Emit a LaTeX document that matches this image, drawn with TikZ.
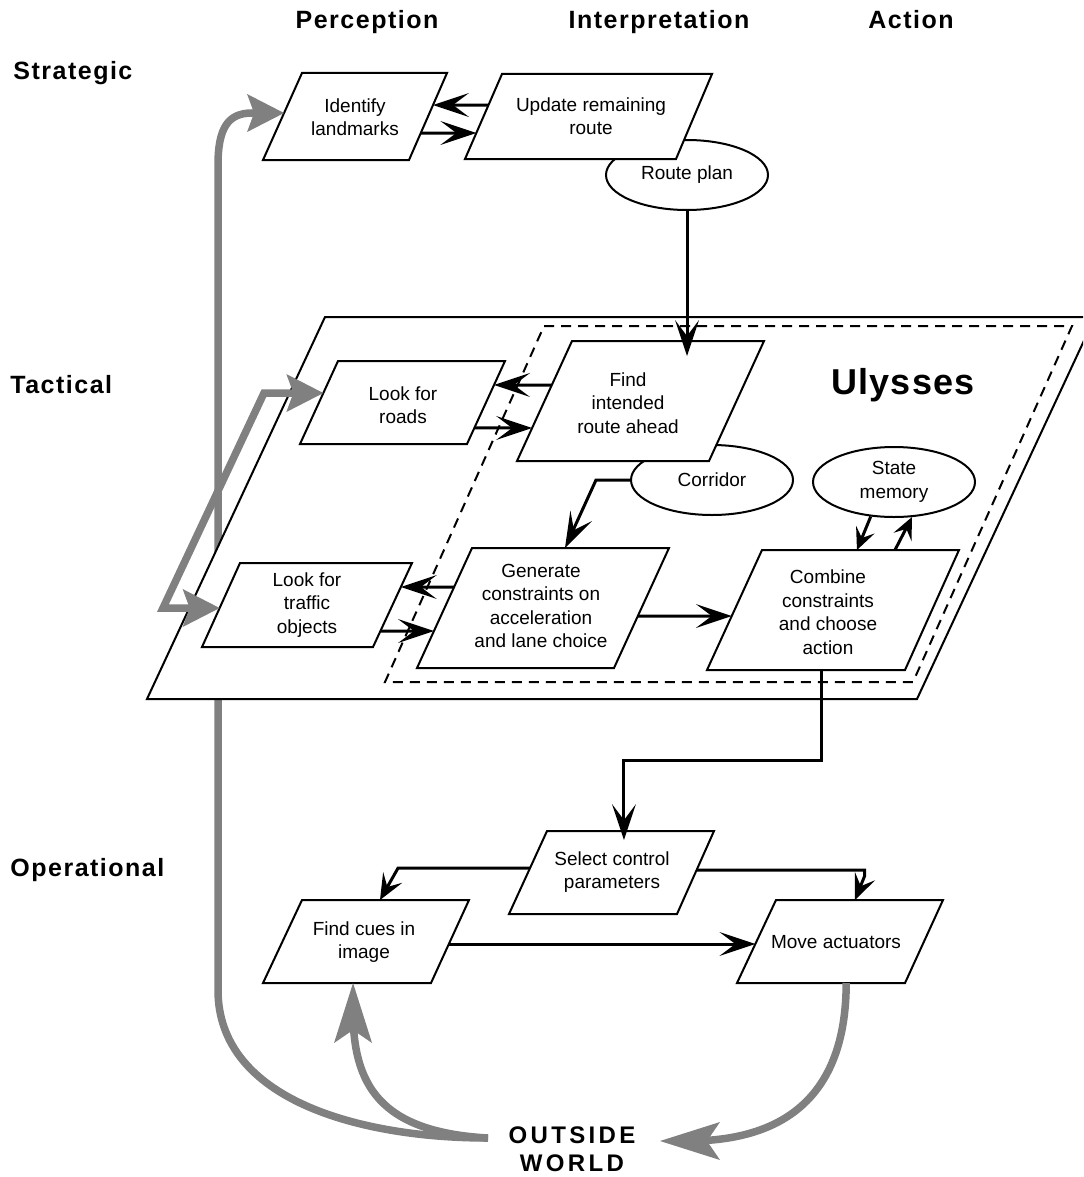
\documentclass[tikz,border=0pt]{standalone}
\usepackage{fontspec}
\setmainfont{Liberation Sans}
\newfontfamily\hdrfont{Liberation Sans}[LetterSpace=6]
\newfontfamily\worldfont{Liberation Sans}[LetterSpace=14]
\newfontfamily\ulfont{Liberation Sans}[LetterSpace=3]
\usetikzlibrary{calc,shapes.geometric}
\definecolor{feedgray}{RGB}{128,128,128}
\pgfdeclarelayer{bg}
\pgfdeclarelayer{ov}
\pgfsetlayers{bg,ov,main}

\tikzset{
  % swept arrowheads, tip at the origin, pointing along +x
  bhead/.pic={\fill[black] (0,0) -- (-18pt,6pt) -- (-10pt,0pt) -- (-18pt,-6pt) -- cycle;},
  mhead/.pic={\fill[black] (0,0) -- (-13pt,5.5pt) -- (-7.5pt,0pt) -- (-13pt,-5.5pt) -- cycle;},
  shead/.pic={\fill[black] (0,0) -- (-11pt,5pt) -- (-6.5pt,0pt) -- (-11pt,-5pt) -- cycle;},
  fhead/.pic={\fill[feedgray] (0,0) -- (-18.5pt,9.5pt) -- (-15pt,0pt) -- (-18.5pt,-9.5pt) -- cycle;},
  fheadl/.pic={\fill[feedgray] (0,0) -- (-30pt,9.5pt) -- (-23.5pt,0pt) -- (-30pt,-9.5pt) -- cycle;},
  box/.style={draw=black, line width=1pt, fill=white, line join=miter},
  frame/.style={draw=black, line width=1pt, fill=white},
  core/.style={draw=black, line width=1pt, dash pattern=on 5pt off 3.5pt},
  lbl/.style={align=center, inner sep=0pt, font=\fontsize{9.5}{11.75}\selectfont},
  oval/.style={ellipse, draw=black, line width=1pt, fill=white, inner sep=0pt,
    minimum width=81pt, minimum height=35pt, align=center,
    font=\fontsize{9.5}{11.75}\selectfont},
  hdr/.style={inner sep=0pt, anchor=base, font=\hdrfont\fontsize{12.5}{14}\selectfont\bfseries},
  flow/.style={draw=black, line width=1.5pt, shorten >=8pt},
  flowmid/.style={draw=black, line width=1.5pt, shorten >=6pt},
  flowsmall/.style={draw=black, line width=1.5pt, shorten >=5pt},
  feed/.style={draw=feedgray, line width=3.75pt, line join=round}
}

% slanted process box: name, top-left x, top-right x, top y,
% bottom-left x, bottom-right x, bottom y, label position, label
\newcommand\pgram[9]{%
  \coordinate (#1-tl) at (#2,#4);
  \coordinate (#1-tr) at (#3,#4);
  \coordinate (#1-bl) at (#5,#7);
  \coordinate (#1-br) at (#6,#7);
  \draw[box] (#1-tl) -- (#1-tr) -- (#1-br) -- (#1-bl) -- cycle;
  \node[lbl] (#1) at #8 {#9};
}

\begin{document}
\begin{tikzpicture}[x=0.5pt,y=-0.5pt]
\useasboundingbox (0,0) rectangle (1083,1177);
\begin{pgfonlayer}{bg}
  \fill[white] (0,0) rectangle (1083,1177);
\end{pgfonlayer}

% headings
\node[hdr] (hperc) at (367,29) {Perception};
\node[hdr] (hint) at (659,29) {Interpretation};
\node[hdr] (hact) at (911,29) {Action};
\node[hdr, anchor=base west] (hstr) at (13,80) {Strategic};
\node[hdr, anchor=base west] (htac) at (10,393) {Tactical};
\node[hdr, anchor=base west] (hop) at (10,876) {Operational};

% outside world
\node[inner sep=0pt, align=center, font=\worldfont\fontsize{12}{14}\selectfont\bfseries]
  (world) at (572,1149) {OUTSIDE\\WORLD};
\coordinate (world-l) at (488,1138);
\coordinate (world-r) at (660,1141);

% process boxes
\pgram{idl}{302}{447}{73}{263}{409}{160}{(355,117)}{Identify\\landmarks}
\pgram{upd}{502}{712}{74}{465}{676}{159}{(591,116)}{Update remaining\\route}
\pgram{roads}{338}{505}{361}{300}{467}{444}{(403,405)}{Look for\\roads}
\pgram{traf}{240}{412}{563}{202}{373}{647}{(307,605)}{Look for\\traffic\\objects}
\pgram{find}{572}{764}{341}{517}{709}{461}{(628,403)}{Find\\intended\\route ahead}
\pgram{gen}{472}{669}{548}{417}{614}{668}{(541,606)}{Generate\\constraints on\\acceleration\\and lane choice}
\pgram{comb}{762}{959}{550}{707}{905}{670}{(828,612)}{Combine\\constraints\\and choose\\action}
\pgram{sel}{547}{714}{831}{509}{677}{914}{(612,872)}{Select control\\parameters}
\pgram{cues}{302}{469}{900}{263}{431}{983}{(364,942)}{Find cues in\\image}
\pgram{move}{776}{943}{900}{737}{905}{983}{(836,942)}{Move actuators}

% arrow end points on the box outlines
\coordinate (f-idl) at ($(idl-tl)!0.46!(idl-bl)$);
\coordinate (f-roads) at ($(roads-tl)!0.386!(roads-bl)$);
\coordinate (f-traf) at ($(traf-tl)!0.536!(traf-bl)$);
\coordinate (f-cues) at ($(cues-bl)!0.536!(cues-br)$);

% perception feed from the world, the Ulysses frame behind the boxes
\begin{pgfonlayer}{bg}
  \begin{scope}
  \clip (0,0) rectangle (1083,1177);
  \draw[feed] (world-l) .. controls (360,1138) and (218,1100) .. (218,990)
    -- (218,165) .. controls (218,128) and (228,113) .. (252,113)
    -- ([xshift=-10pt]f-idl);
  \draw[frame] (325,317) -- (1095,317) -- (917,699) -- (147,699) -- cycle;
  \draw[core] (544,326) -- (1072,326) -- (913,682) -- (385,682) -- cycle;
  \draw[feed, line join=miter] ([xshift=-10pt]f-roads)
    -- (264,393) -- (163,608) -- ([xshift=-10pt]f-traf);
  \end{scope}
\end{pgfonlayer}
\pic at (f-idl) {fhead};
\pic at (f-roads) {fhead};
\pic at (f-traf) {fhead};

% data stores
\begin{pgfonlayer}{ov}
  \node[oval] (plan) at (687,175) {Route plan};
  \node[oval] (corr) at (712,480) {Corridor};
  \node[oval] (mem) at (894,482) {State\\memory};
\end{pgfonlayer}

\node[inner sep=0pt, font=\ulfont\fontsize{18}{21}\selectfont\bfseries] (uly) at (903,385) {Ulysses};

% strategic level
\coordinate (e1) at ($(idl-tr)!0.368!(idl-br)$);
\draw[flow] ($(upd-tl)!0.365!(upd-bl)$) -- (e1);
\pic[rotate=180] at (e1) {bhead};
\coordinate (e2) at ($(upd-tl)!0.694!(upd-bl)$);
\draw[flow] ($(idl-tr)!0.69!(idl-br)$) -- (e2);
\pic at (e2) {bhead};
\coordinate (e3) at ($(plan.south)+(0,145)$);
\draw[flow] (plan.south) -- (e3);
\pic[rotate=-90] at (e3) {bhead};

% tactical level
\coordinate (e4) at ($(roads-tr)!0.289!(roads-br)$);
\draw[flow] ($(find-tl)!0.367!(find-bl)$) -- (e4);
\pic[rotate=180] at (e4) {bhead};
\coordinate (e5) at ($(find-tl)!0.725!(find-bl)$);
\draw[flow] ($(roads-tr)!0.807!(roads-br)$) -- (e5);
\pic at (e5) {bhead};
\coordinate (e6) at ($(traf-tr)!0.286!(traf-br)$);
\draw[flow] ($(gen-tl)!0.325!(gen-bl)$) -- (e6);
\pic[rotate=180] at (e6) {bhead};
\coordinate (e7) at ($(gen-tl)!0.692!(gen-bl)$);
\draw[flow] ($(traf-tr)!0.81!(traf-br)$) -- (e7);
\pic at (e7) {bhead};
\coordinate (e8) at ($(gen-tl)!0.472!(gen-tr)$);
\draw[flow] (corr.west) -- ++(-34,0) -- (e8);
\pic[rotate=-116.6] at (e8) {bhead};
\coordinate (e9) at ($(comb-tl)!0.55!(comb-bl)$);
\draw[flow] ($(gen-tr)!0.567!(gen-br)$) -- (e9);
\pic at (e9) {bhead};
\coordinate (e10) at ($(comb-tl)!0.482!(comb-tr)$);
\draw[flowsmall] (mem.236) -- (e10);
\pic[rotate=-112.4] at (e10) {shead};
\draw[flowsmall] ($(comb-tl)!0.675!(comb-tr)$) -- (mem.297);
\pic[rotate=64.8] at (mem.297) {shead};

% operational level
\coordinate (e12) at ($(sel-tl)!0.461!(sel-tr)+(0,9)$);
\draw[flow] ($(comb-bl)!0.58!(comb-br)$) -- ++(0,90) -| (e12);
\pic[rotate=-90] at (e12) {bhead};
\coordinate (e13) at ($(cues-tl)!0.467!(cues-tr)$);
\draw[flowmid] ($(sel-tl)!0.446!(sel-bl)$) -- ++(-132,0) -- (e13);
\pic[rotate=-119.4] at (e13) {mhead};
\coordinate (e14) at ($(move-tl)!0.473!(move-tr)$);
\draw[flowmid] ($(sel-tr)!0.47!(sel-br)$) -- ++(168,0) -- ++(0,6) -- (e14);
\pic[rotate=-112.6] at (e14) {mhead};
\coordinate (e15) at ($(move-tl)!0.53!(move-bl)$);
\draw[flow] ($(cues-tr)!0.53!(cues-br)$) -- (e15);
\pic at (e15) {bhead};

% loops through the outside world
\draw[feed, shorten >=14pt] (world-l) .. controls (380,1132) and (353,1085) .. (f-cues);
\pic[rotate=90] at (f-cues) {fheadl};
\draw[feed, shorten >=14pt] ($(move-bl)!0.65!(move-br)$) .. controls (846,1100) and (780,1141) .. (world-r);
\pic[rotate=180] at (world-r) {fheadl};

\end{tikzpicture}
\end{document}
